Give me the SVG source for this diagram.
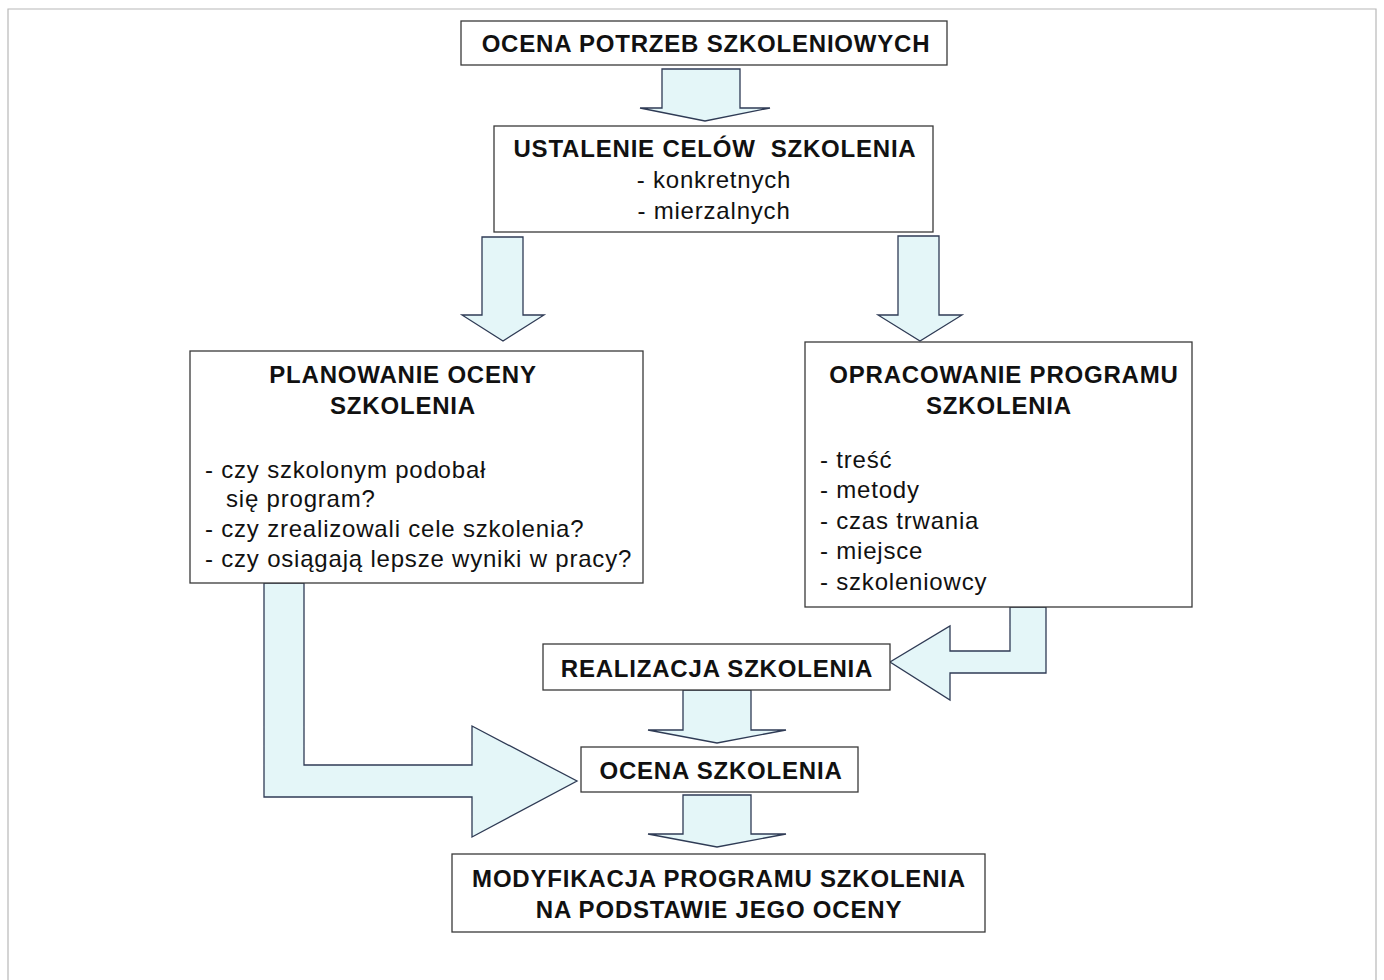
<svg xmlns="http://www.w3.org/2000/svg" width="1384" height="980" viewBox="0 0 1384 980">
  <style>
    .box { fill: #ffffff; stroke: #3a3a3a; stroke-width: 1.3; }
    .arrow { fill: #e4f6f8; stroke: #2f3b55; stroke-width: 1.3; stroke-linejoin: miter; }
    .frame { fill: none; stroke: #b8b8b8; stroke-width: 1.2; }
    text { font-family: "Liberation Sans", Arial, sans-serif; font-size: 24px; letter-spacing: 0.8px; fill: #111111; }
    .title { font-weight: bold; text-anchor: middle; }
    .mid { text-anchor: middle; }
  </style>

  <rect width="1384" height="980" fill="#ffffff"/>
  <!-- page frame -->
  <path class="frame" d="M8,980 V9 H1376 V980"/>

  <!-- block arrows -->
  <g id="connectors">
    <polygon class="arrow" points="662,69 740,69 740,108 770,108 705,121 640,108 662,108"/>
    <polygon class="arrow" points="482,237 523,237 523,315 544,315 503,341 462,315 482,315"/>
    <polygon class="arrow" points="898,236 939,236 939,315 962,315 920,341 878,315 898,315"/>
    <polygon class="arrow" points="1010,607 1046,607 1046,673 950,673 950,700 890,662 950,626 950,651 1010,651"/>
    <polygon class="arrow" points="264,583 304,583 304,765 472,765 472,726 577,781 472,837 472,797 264,797"/>
    <polygon class="arrow" points="683,690 751,690 751,730 786,730 717,743 648,730 683,730"/>
    <polygon class="arrow" points="683,795 751,795 751,834 786,834 717,847 648,834 683,834"/>
  </g>

  <g id="ocena-potrzeb">
    <rect class="box" x="461" y="21" width="486" height="44"/>
    <text class="title" x="706" y="52">OCENA POTRZEB SZKOLENIOWYCH</text>
  </g>

  <g id="ustalenie-celow">
    <rect class="box" x="494" y="126" width="439" height="106"/>
    <text class="title" x="715" y="157">USTALENIE CELÓW&#160; SZKOLENIA</text>
    <text class="mid" x="714" y="188">- konkretnych</text>
    <text class="mid" x="714" y="219">- mierzalnych</text>
  </g>

  <g id="planowanie-oceny">
    <rect class="box" x="190" y="351" width="453" height="232"/>
    <text class="title" x="403" y="383">PLANOWANIE OCENY</text>
    <text class="title" x="403" y="414">SZKOLENIA</text>
    <text x="205" y="478">- czy szkolonym podobał</text>
    <text x="226" y="507">się program?</text>
    <text x="205" y="537">- czy zrealizowali cele szkolenia?</text>
    <text x="205" y="567">- czy osiągają lepsze wyniki w pracy?</text>
  </g>

  <g id="opracowanie-programu">
    <rect class="box" x="805" y="342" width="387" height="265"/>
    <text class="title" x="1004" y="383">OPRACOWANIE PROGRAMU</text>
    <text class="title" x="999" y="414">SZKOLENIA</text>
    <text x="820" y="468">- treść</text>
    <text x="820" y="498">- metody</text>
    <text x="820" y="529">- czas trwania</text>
    <text x="820" y="559">- miejsce</text>
    <text x="820" y="590">- szkoleniowcy</text>
  </g>

  <g id="realizacja">
    <rect class="box" x="543" y="644" width="347" height="46"/>
    <text class="title" x="717" y="677">REALIZACJA SZKOLENIA</text>
  </g>

  <g id="ocena-szkolenia">
    <rect class="box" x="581" y="747" width="277" height="45"/>
    <text class="title" x="721" y="779">OCENA SZKOLENIA</text>
  </g>

  <g id="modyfikacja">
    <rect class="box" x="452" y="854" width="533" height="78"/>
    <text class="title" x="719" y="887">MODYFIKACJA PROGRAMU SZKOLENIA</text>
    <text class="title" x="719" y="918">NA PODSTAWIE JEGO OCENY</text>
  </g>
</svg>
